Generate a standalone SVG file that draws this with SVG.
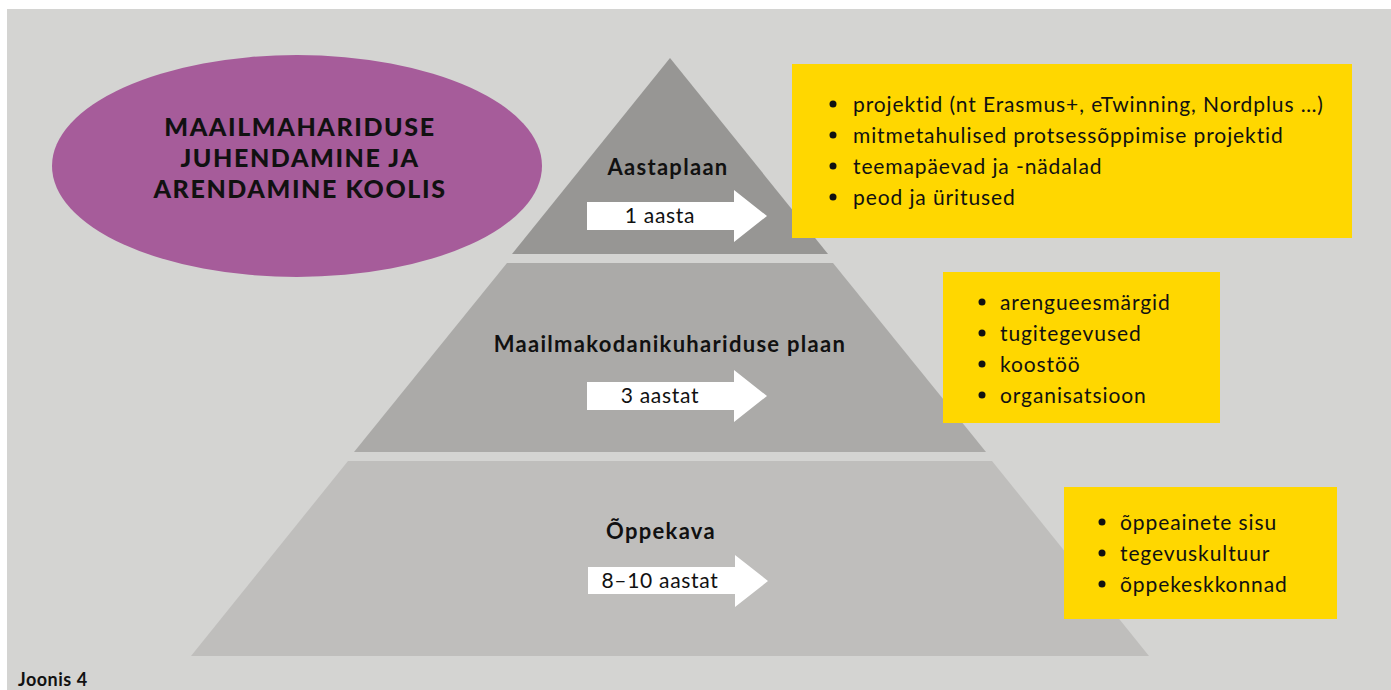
<svg xmlns="http://www.w3.org/2000/svg" width="1391" height="690" viewBox="0 0 1391 690">
<style>
.t{font-family:Lato,"Open Sans","Liberation Sans",sans-serif;fill:#111}
.title{font-size:25px;font-weight:900;text-anchor:middle;letter-spacing:1.6px}
.lab{font-size:22px;font-weight:700;text-anchor:middle;letter-spacing:1.3px}
.arr{font-size:21px;text-anchor:middle;letter-spacing:0.7px}
.li{font-size:21px;letter-spacing:0.9px}
.box{fill:#ffd700}
.arrow{fill:#fff}
</style>
<rect x="0" y="0" width="1391" height="690" fill="#fff"/>
<rect x="7" y="9" width="1384" height="681" fill="#d4d4d2"/>
<g id="title">
<ellipse cx="297" cy="166" rx="245" ry="111" fill="#a65c9a"/>
<text class="t title" x="300" y="136">MAAILMAHARIDUSE</text>
<text class="t title" x="300" y="167">JUHENDAMINE JA</text>
<text class="t title" x="300" y="198">ARENDAMINE KOOLIS</text>
</g>
<g id="tier-aastaplaan">
<polygon points="670,58 828,254 512,254" fill="#979694"/>
<text class="t lab" x="668" y="175">Aastaplaan</text>
</g>
<g id="tier-maailmakodanik">
<polygon points="507,263 833,263 986,452 354,452" fill="#abaaa8"/>
<text class="t lab" x="670" y="352">Maailmakodanikuhariduse plaan</text>
</g>
<g id="tier-oppekava">
<polygon points="348,461 992,461 1149,656 191,656" fill="#bfbebc"/>
<text class="t lab" x="661" y="539">Õppekava</text>
</g>
<g id="connectors">
<polygon class="arrow" points="587,202 734,202 734,190 767,216 734,242 734,230 587,230"/>
<polygon class="arrow" points="587,382 734,382 734,370 767,396 734,422 734,410 587,410"/>
<polygon class="arrow" points="588,567 735,567 735,555 768,581 735,607 735,594 588,594"/>
<text class="t arr" x="660" y="223">1 aasta</text>
<text class="t arr" x="660" y="403">3 aastat</text>
<text class="t arr" x="660" y="588">8–10 aastat</text>
</g>
<g id="box-aasta">
<rect class="box" x="792" y="64" width="560" height="174"/>
<g class="t li">
<circle cx="833" cy="104" r="3.5"/><text x="853" y="112">projektid (nt Erasmus+, eTwinning, Nordplus …)</text>
<circle cx="833" cy="135" r="3.5"/><text x="853" y="143">mitmetahulised protsessõppimise projektid</text>
<circle cx="833" cy="166" r="3.5"/><text x="853" y="174">teemapäevad ja -nädalad</text>
<circle cx="833" cy="197" r="3.5"/><text x="853" y="205">peod ja üritused</text>
</g>
</g>
<g id="box-plaan">
<rect class="box" x="943" y="272" width="277" height="151"/>
<g class="t li">
<circle cx="982" cy="302" r="3.5"/><text x="1000" y="310">arengueesmärgid</text>
<circle cx="982" cy="333" r="3.5"/><text x="1000" y="341">tugitegevused</text>
<circle cx="982" cy="364" r="3.5"/><text x="1000" y="372">koostöö</text>
<circle cx="982" cy="395" r="3.5"/><text x="1000" y="403">organisatsioon</text>
</g>
</g>
<g id="box-oppekava">
<rect class="box" x="1064" y="487" width="273" height="132"/>
<g class="t li">
<circle cx="1102" cy="522" r="3.5"/><text x="1120" y="530">õppeainete sisu</text>
<circle cx="1102" cy="553" r="3.5"/><text x="1120" y="561">tegevuskultuur</text>
<circle cx="1102" cy="584" r="3.5"/><text x="1120" y="592">õppekeskkonnad</text>
</g>
</g>
<text class="t" x="18" y="686" font-size="18" font-weight="700" letter-spacing="0.5">Joonis 4</text>
</svg>
